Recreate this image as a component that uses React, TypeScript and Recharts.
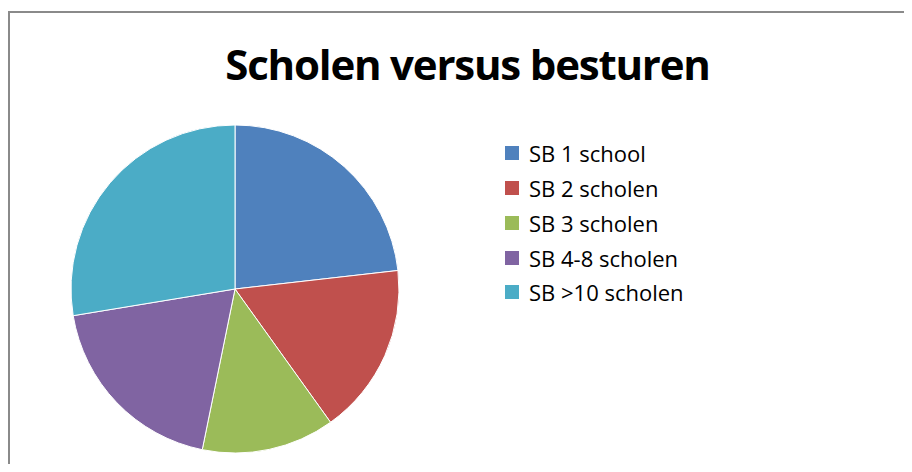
import { PieChart, Pie, Cell, Legend } from 'recharts';

const categories = ['SB 1 school', 'SB 2 scholen', 'SB 3 scholen', 'SB 4-8 scholen', 'SB >10 scholen'];
const values = [23.2, 16.9, 13.1, 19.2, 27.6];
const colors = ['#4F81BD', '#C0504D', '#9BBB59', '#8064A2', '#4BACC6'];

const data = categories.map((name, i) => ({ name, value: values[i] }));

const font = '"Open Sans", "Liberation Sans", sans-serif';

const LegendList = () => (
    <div style={{ fontFamily: font, fontSize: 22, color: '#000' }}>
        {categories.map((c, i) => (
            <div key={c} style={{ display: 'flex', alignItems: 'center', height: 34.75 }}>
                <span style={{ width: 14, height: 14, background: colors[i], marginRight: 10, display: 'inline-block' }} />
                <span style={{ letterSpacing: 0 }}>{c}</span>
            </div>
        ))}
    </div>
);

export default function App() {
    return (
        <div style={{ position: 'relative', width: 912, height: 472, margin: -8, overflow: 'hidden', background: '#fff' }}>
            <div style={{ position: 'absolute', left: 8, top: 11, width: 960, height: 520, border: '2px solid #8a8a8a' }} />
            <div style={{
                position: 'absolute', left: 0, width: 935, top: 35, textAlign: 'center',
                fontFamily: font, fontWeight: 700, fontSize: 42, letterSpacing: -1.2, color: '#000'
            }}>
                Scholen versus besturen
            </div>
            <PieChart width={912} height={472} margin={{ top: 0, right: 0, bottom: 0, left: 0 }} style={{ position: 'absolute', left: 0, top: 0 }}>
                <Pie
                    data={data}
                    dataKey="value"
                    nameKey="name"
                    cx={235}
                    cy={289}
                    outerRadius={164}
                    startAngle={90}
                    endAngle={-270}
                    stroke="#fff"
                    strokeWidth={1}
                    isAnimationActive={false}
                >
                    {data.map((d, i) => (
                        <Cell key={d.name} fill={colors[i]} />
                    ))}
                </Pie>
                <Legend
                    layout="vertical"
                    align="right"
                    verticalAlign="middle"
                    wrapperStyle={{ left: 505, top: 136, width: 250 }}
                    content={<LegendList />}
                />
            </PieChart>
        </div>
    );
}
